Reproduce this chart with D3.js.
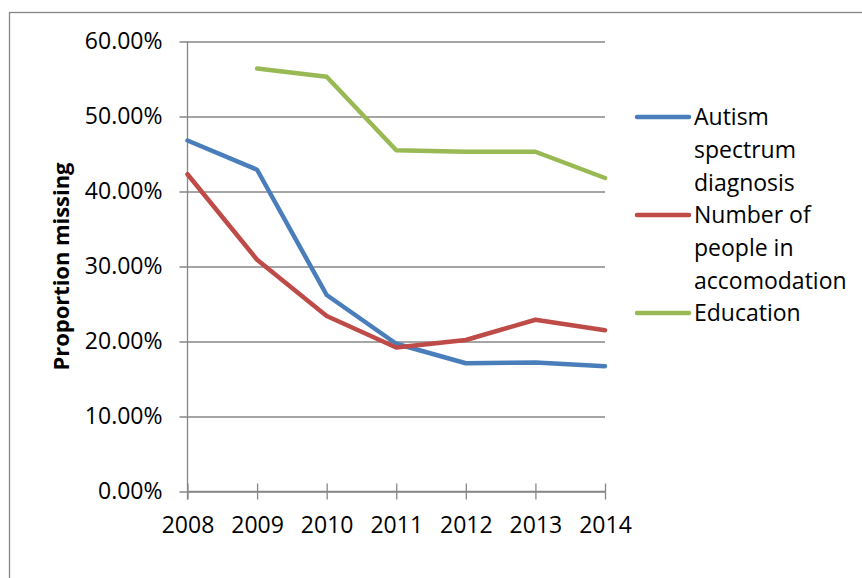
<!DOCTYPE html>
<html>
<head>
<meta charset="utf-8">
<script src="https://cdn.jsdelivr.net/npm/d3@7"></script>
<style>
  body { margin: 0; background: #fff; }
  svg { display: block; font-family: "Open Sans", sans-serif; }
</style>
</head>
<body>
<svg id="chart" width="862" height="578"></svg>
<script>
// chart data
const years = [2008, 2009, 2010, 2011, 2012, 2013, 2014];
const autism = [46.8, 42.9, 26.2, 19.7, 17.1, 17.2, 16.7];
const accommodation = [42.3, 30.9, 23.4, 19.2, 20.2, 22.9, 21.5];
const education = [null, 56.4, 55.3, 45.5, 45.3, 45.3, 41.8];
const yTicks = [0, 10, 20, 30, 40, 50, 60];

const seriesList = [
  { name: ['Autism', 'spectrum', 'diagnosis'], values: autism, color: '#4a7ebb' },
  { name: ['Number of', 'people in', 'accomodation'], values: accommodation, color: '#be4b48' },
  { name: ['Education'], values: education, color: '#98b954' }
];

const svg = d3.select('#chart');
const gridColor = '#878787';
const labelSize = 23;

// outer chart border (runs off the right/bottom edge)
svg.append('rect')
  .attr('x', 9.5).attr('y', 12.5)
  .attr('width', 900).attr('height', 600)
  .attr('fill', 'none')
  .attr('stroke', gridColor)
  .attr('stroke-width', 1.3);

const plotLeft = 187.5, plotRight = 605, plotTop = 41.5, plotBottom = 491.5;

const x = d3.scaleLinear().domain([2008, 2014]).range([plotLeft, plotRight]);
const y = d3.scaleLinear().domain([0, 60]).range([plotBottom, plotTop]);

// horizontal gridlines + y tick labels
const yAxis = d3.axisLeft(y)
  .tickValues(yTicks)
  .tickSize(-(plotRight - plotLeft))
  .tickPadding(25)
  .tickFormat(d => d.toFixed(2) + '%');

const gy = svg.append('g')
  .attr('transform', `translate(${plotLeft},0)`)
  .call(yAxis);
gy.select('.domain').remove();
gy.selectAll('.tick line')
  .attr('x1', -8)
  .attr('stroke', gridColor)
  .attr('stroke-width', 1.3);
gy.selectAll('.tick text')
  .attr('font-size', labelSize)
  .attr('font-family', '"Open Sans", sans-serif')
  .attr('fill', '#000');

// vertical axis line
svg.append('line')
  .attr('x1', plotLeft).attr('x2', plotLeft)
  .attr('y1', plotTop).attr('y2', plotBottom + 8)
  .attr('stroke', gridColor).attr('stroke-width', 1.3);

// x axis with crossing ticks
const xAxis = d3.axisBottom(x)
  .tickValues(years)
  .tickSize(8)
  .tickPadding(17)
  .tickFormat(d3.format('d'));

const gx = svg.append('g')
  .attr('transform', `translate(0,${plotBottom})`)
  .call(xAxis);
gx.select('.domain').remove();
gx.selectAll('.tick line')
  .attr('y1', -8)
  .attr('stroke', gridColor)
  .attr('stroke-width', 1.3);
gx.selectAll('.tick text')
  .attr('font-size', labelSize)
  .attr('font-family', '"Open Sans", sans-serif')
  .attr('fill', '#000');
svg.append('line')
  .attr('x1', plotLeft).attr('x2', plotRight)
  .attr('y1', plotBottom).attr('y2', plotBottom)
  .attr('stroke', gridColor).attr('stroke-width', 1.3);

// y axis title
svg.append('text')
  .attr('transform', `translate(69,${(plotTop + plotBottom) / 2}) rotate(-90)`)
  .attr('text-anchor', 'middle')
  .attr('font-size', 22)
  .attr('font-weight', 'bold')
  .attr('textLength', 208)
  .attr('lengthAdjust', 'spacing')
  .text('Proportion missing');

// series lines
const line = d3.line()
  .defined(d => d.v != null)
  .x(d => x(d.year))
  .y(d => y(d.v));

seriesList.forEach(s => {
  const pts = years.map((yr, i) => ({ year: yr, v: s.values[i] }));
  svg.append('path')
    .datum(pts)
    .attr('d', line)
    .attr('fill', 'none')
    .attr('stroke', s.color)
    .attr('stroke-width', 4.5)
    .attr('stroke-linecap', 'round')
    .attr('stroke-linejoin', 'round');
});

// legend
const lineHeight = 33;
let ly = 117;
const legend = svg.append('g');
seriesList.forEach(s => {
  legend.append('line')
    .attr('x1', 637).attr('x2', 689)
    .attr('y1', ly).attr('y2', ly)
    .attr('stroke', s.color)
    .attr('stroke-width', 4.5)
    .attr('stroke-linecap', 'round');
  s.name.forEach((txt, i) => {
    legend.append('text')
      .attr('x', 694)
      .attr('y', ly + i * lineHeight)
      .attr('dy', '0.35em')
      .attr('font-size', labelSize)
      .text(txt);
  });
  ly += s.name.length * lineHeight - 1;
});
</script>
</body>
</html>
